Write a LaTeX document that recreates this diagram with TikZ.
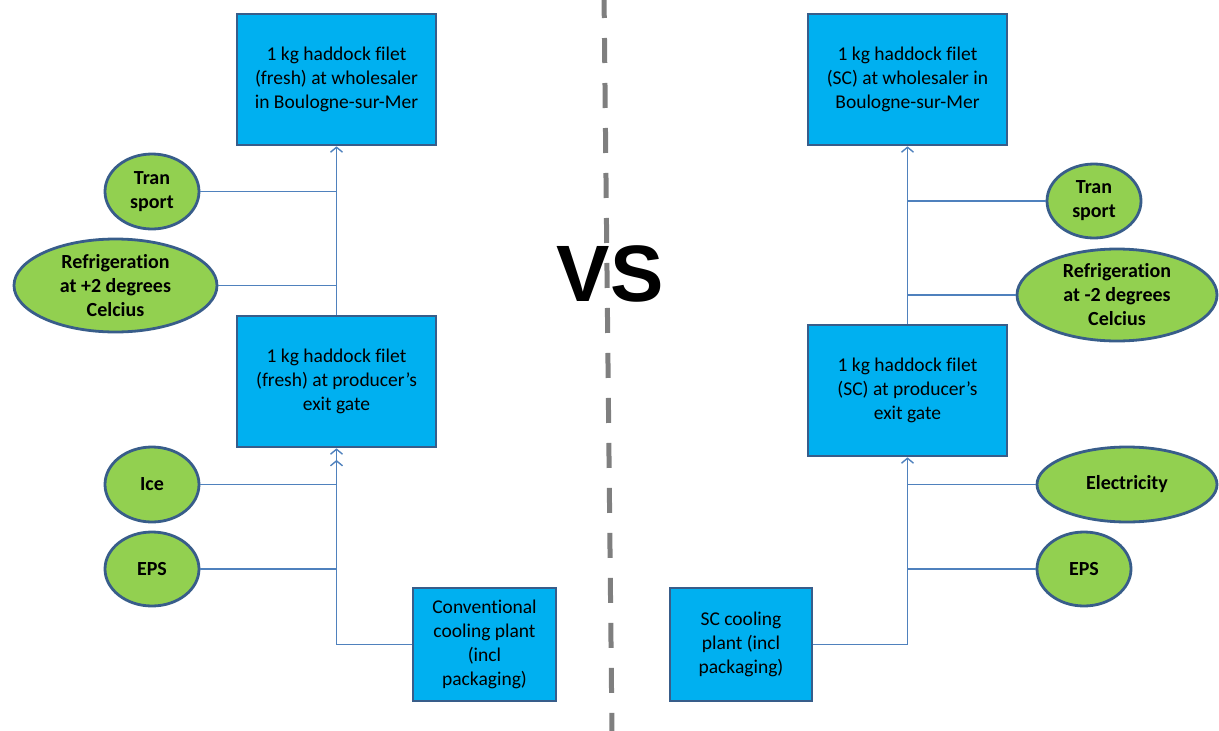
\documentclass[tikz,border=0pt]{standalone}
\usepackage{fontspec}
\setmainfont{Carlito}[Ligatures=NoCommon]
\setsansfont{Liberation Sans}
\usetikzlibrary{arrows.meta,shapes.geometric}
\definecolor{boxfill}{HTML}{00B0F0}
\definecolor{edgeblue}{HTML}{385D8A}
\definecolor{ellfill}{HTML}{92D050}
\definecolor{linkblue}{HTML}{4F81BD}
\definecolor{dashgray}{HTML}{7F7F7F}
\begin{document}
\begin{tikzpicture}[x=1pt,y=-1pt,
 procbox/.style={draw=edgeblue,line width=2.6pt,fill=boxfill,rectangle,align=center,inner sep=0pt,font=\fontsize{19.5}{24}\selectfont,text=black},
 inputell/.style={draw=edgeblue,line width=2.8pt,fill=ellfill,ellipse,align=center,inner sep=0pt,font=\fontsize{20}{24}\selectfont\bfseries,text=black},
 linkline/.style={draw=linkblue,line width=1.4pt},
 onetip/.style={-{Straight Barb[length=5pt,width=12pt]}},
 twotip/.style={-{Straight Barb[length=5pt,width=12pt,sep=5pt]Straight Barb[length=5pt,width=12pt]}}
]
\useasboundingbox (0,0) rectangle (1219,731);
% divider
\draw[dashgray,line width=5pt,dash pattern=on 25pt off 20pt] (604,-7) -- (612,735);
\node[font=\sffamily\bfseries\fontsize{80}{80}\selectfont] (vs) at (610,274) {VS};
% left side
\node[procbox,minimum width=199pt,minimum height=131pt] (L1) at (336.5,79.5) {1 kg haddock filet\\(fresh) at wholesaler\\in Boulogne-sur-Mer};
\node[procbox,minimum width=199pt,minimum height=131pt] (L2) at (336.5,381.5) {1 kg haddock filet\\(fresh) at producer’s\\exit gate};
\node[procbox,minimum width=143pt,minimum height=113pt] (conv) at (484.5,644.5) {Conventional\\cooling plant\\(incl\\packaging)};
\node[inputell,minimum width=94pt,minimum height=75pt] (transL) at (152,191.5) {Tran\\sport};
\node[inputell,minimum width=203pt,minimum height=93pt] (refL) at (115.5,285.5) {Refrigeration\\at +2 degrees\\Celcius};
\node[inputell,minimum width=94pt,minimum height=75pt] (ice) at (152,484.5) {Ice};
\node[inputell,minimum width=94pt,minimum height=74pt] (epsL) at (152,569) {EPS};
\draw[linkline,onetip] (L2.north) -- (L1.south);
\draw[linkline] (transL.east) -- (transL.east -| L1.south);
\draw[linkline] (refL.east) -- (refL.east -| L1.south);
\draw[linkline,twotip] (conv.west) -| (L2.south);
\draw[linkline] (ice.east) -- (ice.east -| L2.south);
\draw[linkline] (epsL.east) -- (epsL.east -| L2.south);
% right side
\node[procbox,minimum width=199pt,minimum height=131pt] (R1) at (907.5,79.5) {1 kg haddock filet\\(SC) at wholesaler in\\Boulogne-sur-Mer};
\node[procbox,minimum width=199pt,minimum height=131pt] (R2) at (907.5,390.5) {1 kg haddock filet\\(SC) at producer’s\\exit gate};
\node[procbox,minimum width=142pt,minimum height=113pt] (sc) at (741,644.5) {SC cooling\\plant (incl\\packaging)};
\node[inputell,minimum width=94pt,minimum height=74pt] (transR) at (1094,201) {Tran\\sport};
\node[inputell,minimum width=200pt,minimum height=92pt] (refR) at (1117,295) {Refrigeration\\at -2 degrees\\Celcius};
\node[inputell,minimum width=180pt,minimum height=75pt] (elec) at (1127,484.5) {Electricity};
\node[inputell,minimum width=94pt,minimum height=74pt] (epsR) at (1084,569) {EPS};
\draw[linkline,onetip] (R2.north) -- (R1.south);
\draw[linkline] (transR.west) -- (transR.west -| R1.south);
\draw[linkline] (refR.west) -- (refR.west -| R1.south);
\draw[linkline,onetip] (sc.east) -| (R2.south);
\draw[linkline] (elec.west) -- (elec.west -| R2.south);
\draw[linkline] (epsR.west) -- (epsR.west -| R2.south);
\end{tikzpicture}
\end{document}
